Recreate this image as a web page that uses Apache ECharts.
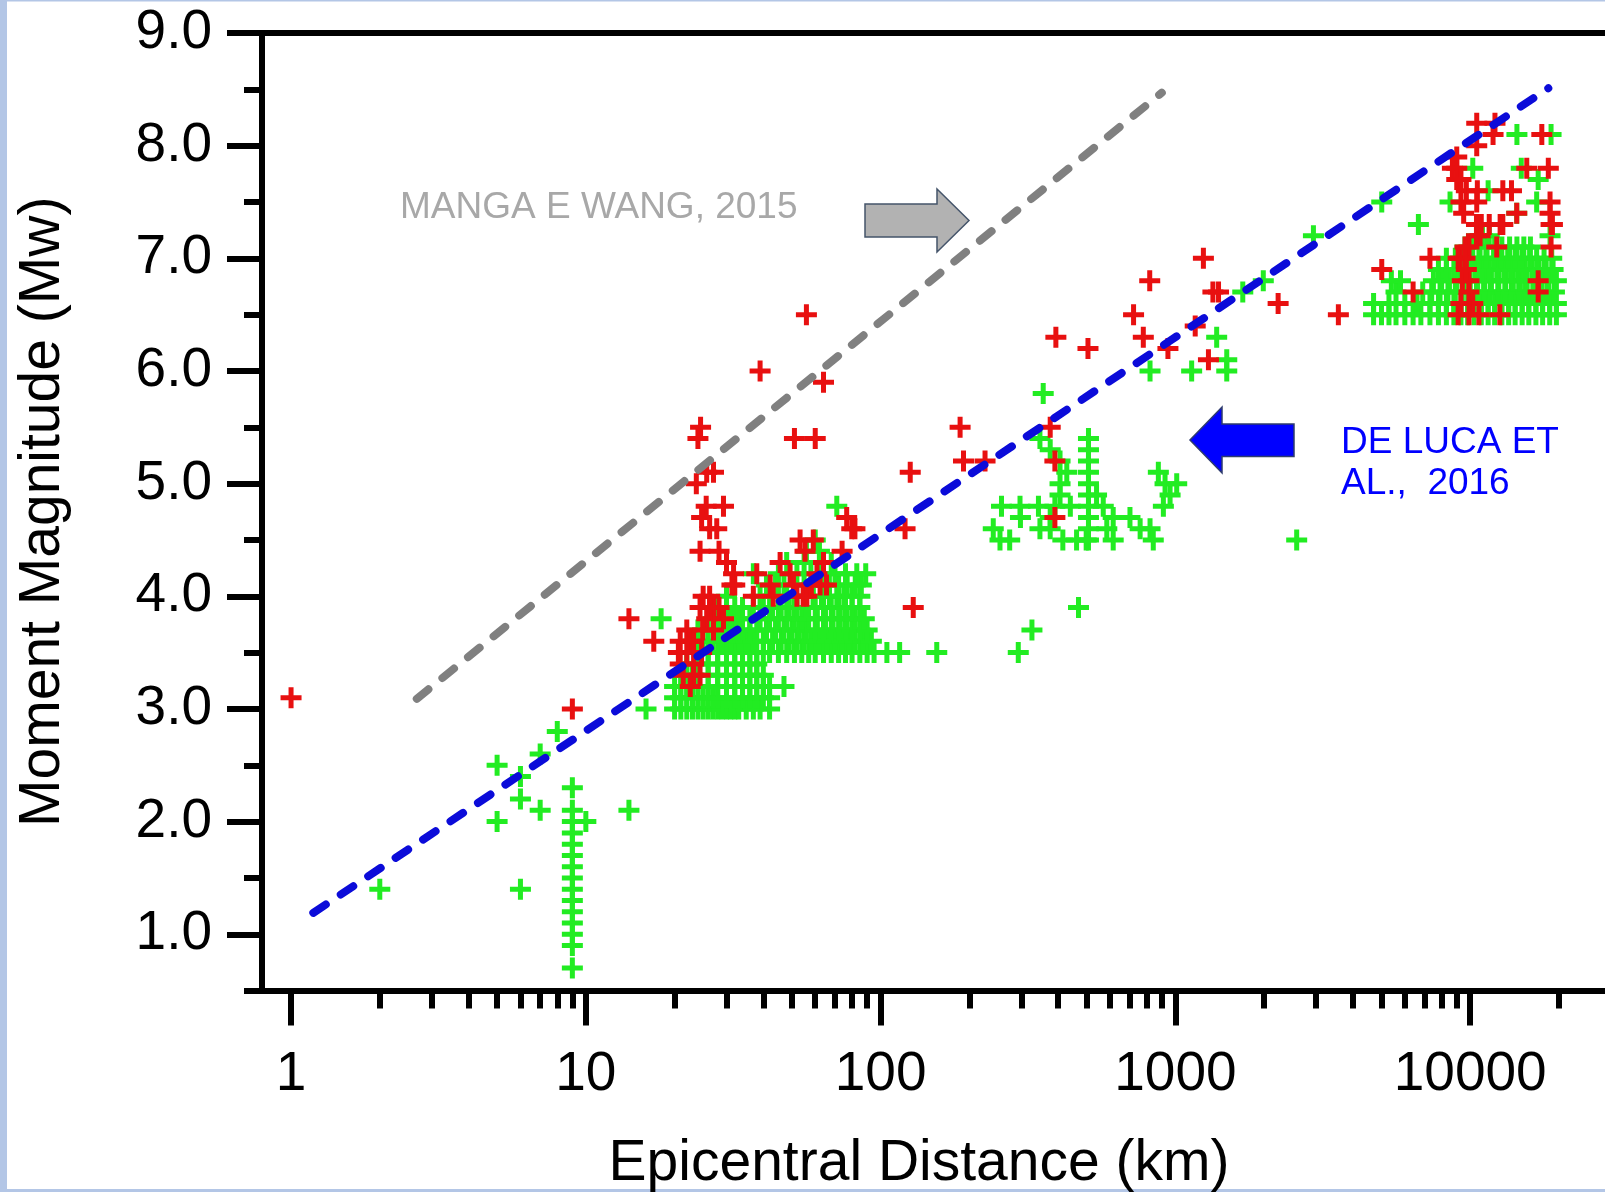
<!DOCTYPE html>
<html>
<head>
<meta charset="utf-8">
<title>Moment Magnitude vs Epicentral Distance</title>
<script src="https://cdn.jsdelivr.net/npm/echarts@6.0.0/dist/echarts.min.js"></script>
<style>
  html, body { margin: 0; padding: 0; background: #fff; }
  #main { width: 1605px; height: 1192px; }
</style>
</head>
<body>
<div id="main"></div>
<script>
// ---- axis ticks ----
var xMajorTicks = [1, 10, 100, 1000, 10000];
var xMinorTicks = [2, 3, 4, 5, 6, 7, 8, 9,
  20, 30, 40, 50, 60, 70, 80, 90,
  200, 300, 400, 500, 600, 700, 800, 900,
  2000, 3000, 4000, 5000, 6000, 7000, 8000, 9000, 20000];
var yMajorTicks = [1, 2, 3, 4, 5, 6, 7, 8, 9];
var yMinorTicks = [0.5, 1.5, 2.5, 3.5, 4.5, 5.5, 6.5, 7.5, 8.5];

// ---- green crosses: [distance km, Mw] ----
var greenScatter = [
  [2, 1.4], [5, 2.5], [5, 2.0], [6, 2.4], [6, 2.2], [6, 1.4], [7, 2.6], [7, 2.1], [8, 2.8],
  [9, 2.3], [10, 2.0], [14, 2.1], [16, 3.0], [18, 3.8],
  [47, 3.2], [71, 4.8], [60, 4.5], [62, 4.4], [56, 4.4], [89, 4.2], [105, 3.5], [116, 3.5], [155, 3.5],
  [356, 5.8], [820, 6.0], [1135, 6.0], [1493, 6.1], [1493, 6.0], [1380, 6.3], [1692, 6.7],
  [1986, 6.8], [2938, 7.2], [5010, 7.5], [6670, 7.3],
  [469, 3.9], [326, 3.7], [293, 3.5], [2578, 4.5],
  [8540, 7.5], [11500, 7.6], [16800, 7.5], [14380, 7.4], [17000, 7.7], [10200, 7.8],
  [14900, 7.8], [14400, 8.1], [18800, 8.1], [18650, 7.2], [11600, 7.2]
];
// vertical stack at 9 km
var greenColumn9km = [2.1, 2.0, 1.9, 1.8, 1.7, 1.6, 1.5, 1.4, 1.3, 1.2, 1.1, 1.0, 0.9, 0.7];
// 200 - 1000 km group
var greenMid = [
  [507, 5.4], [507, 5.3], [507, 5.2], [507, 5.1], [507, 5.0], [507, 4.9], [507, 4.8], [507, 4.7],
  [507, 4.6], [507, 4.5], [347, 5.4], [376, 5.3], [406, 5.2], [428, 5.1], [406, 5.0], [406, 4.9],
  [390, 4.8], [376, 4.7], [257, 4.8], [297, 4.8], [343, 4.8], [440, 4.8], [298, 4.7], [241, 4.6],
  [254, 4.5], [274, 4.5], [347, 4.6], [376, 4.6], [415, 4.5], [462, 4.5], [498, 4.5], [540, 4.9],
  [569, 4.8], [615, 4.7], [585, 4.6], [615, 4.5], [701, 4.7], [759, 4.6], [820, 4.6], [841, 4.5],
  [910, 4.8], [959, 4.9], [875, 5.1], [922, 5.0], [1010, 5.0]
];
// dense rows 20 - 100 km: [Mw, distances]
var greenRowsNear = [
  [3.0, [20, 21, 22, 23, 24, 25, 26, 27, 28, 29, 30, 31, 32, 33, 35, 37, 39, 42]],
  [3.1, [20, 21, 22, 23, 24, 25, 26, 27, 28, 30, 32, 34, 36, 38, 40, 42]],
  [3.2, [20, 21, 22, 23, 24, 26, 28, 30, 32, 34, 36, 38, 40, 42]],
  [3.3, [21, 22, 23, 24, 26, 28, 30, 32, 34, 36, 38, 40]],
  [3.4, [22, 24, 26, 28, 30, 32, 34, 36, 38]],
  [3.5, [24, 26, 28, 30, 32, 34, 36, 38, 40, 42, 45, 48, 51, 54, 57, 60, 64, 68, 72, 76, 80, 85, 90, 95]],
  [3.6, [23, 25, 27, 29, 31, 33, 35, 37, 40, 43, 46, 49, 52, 55, 58, 62, 66, 70, 74, 78, 82, 87, 93]],
  [3.7, [24, 26, 28, 30, 32, 34, 36, 38, 41, 44, 47, 50, 53, 56, 60, 64, 68, 72, 76, 80, 85, 90]],
  [3.8, [27, 29, 31, 33, 36, 39, 42, 45, 48, 51, 54, 57, 61, 65, 69, 73, 77, 82, 88]],
  [3.9, [28, 30, 32, 34, 37, 40, 43, 46, 49, 52, 56, 60, 64, 68, 72, 76, 80, 85]],
  [4.0, [30, 39, 42, 45, 48, 51, 55, 59, 63, 67, 71, 75, 80, 85]],
  [4.1, [41, 44, 47, 51, 55, 59, 63, 67, 72, 77, 82, 86]],
  [4.2, [37, 45, 52, 58, 64, 70, 76, 83]],
  [4.3, [48, 55, 62, 68]]
];
// dense rows around 10000 km
var greenRowsFar = [
  [6.5, [4700, 5000, 5300, 5600, 6000, 6400, 6800, 7300, 7800, 8300, 8800, 9300, 9800, 10300, 10900,
         11500, 12100, 12800, 13500, 14200, 15000, 15800, 16700, 17600, 18600, 19600]],
  [6.6, [4700, 5300, 6000, 6600, 7300, 7800, 8300, 8800, 9300, 9800, 10300, 10900, 11500, 12100,
         12800, 13500, 14200, 15000, 15800, 16700, 17600, 18600, 19600]],
  [6.7, [5600, 6900, 7400, 7900, 8400, 8900, 9400, 9900, 10500, 11100, 11700, 12400, 13100, 13800,
         14600, 15400, 16300, 17200, 18200, 19300]],
  [6.8, [5400, 5800, 7500, 8000, 8500, 9000, 9500, 10000, 10600, 11200, 11800, 12500, 13200, 14000,
         14800, 15600, 16500, 17500, 18500, 19600]],
  [6.9, [7800, 8300, 8800, 9300, 9800, 10400, 11000, 11600, 12300, 13000, 13700, 14500, 15300, 16200,
         17100, 18100, 19100]],
  [7.0, [8300, 8900, 9500, 10100, 10700, 11300, 12000, 12700, 13400, 14200, 15000, 15900, 16800, 17800, 18900]],
  [7.1, [9600, 10200, 10800, 11400, 12100, 12800, 13600, 14400, 15200, 16000]],
  [7.2, [10500, 11000]]
];

// ---- red crosses: [distance km, Mw] ----
var redNear = [
  [1, 3.1], [9, 3.0], [14, 3.8], [17, 3.6],
  [24.5, 5.5], [24, 5.4], [51, 5.4], [60, 5.4], [64, 5.9], [56, 6.5], [39, 6.0],
  [25.7, 5.1], [27.1, 5.1], [23.7, 5.0], [25.6, 4.8], [29.3, 4.8], [24.7, 4.7], [26.3, 4.6], [27.8, 4.6],
  [24.4, 4.4], [28.3, 4.4], [30, 4.3], [31.7, 4.2], [32, 4.1], [31.3, 4.1],
  [26.3, 4.0], [25, 4.0], [27.1, 3.9], [24.4, 3.9], [26.3, 3.9], [28.3, 3.9], [25.7, 3.8], [29.3, 3.8], [27.1, 3.7],
  [22, 3.7], [24.9, 3.7], [20.9, 3.6], [22.6, 3.6], [23.2, 3.6], [20.6, 3.5], [22, 3.5], [24.7, 3.5],
  [23.2, 3.4], [20.9, 3.4], [21.4, 3.3], [23.2, 3.3], [24.4, 3.3], [22.6, 3.2],
  [38, 4.2], [42.2, 4.1], [37, 4.0], [43.2, 4.0], [45.6, 4.3], [49.3, 4.2], [50.6, 4.1], [54.6, 4.0],
  [52, 4.0], [59.1, 4.5], [53.3, 4.5], [55.4, 4.4], [64, 4.3], [65.5, 4.1], [60.8, 4.2], [74, 4.4],
  [56.2, 4.0], [58.2, 4.1], [62.3, 4.1], [76.7, 4.7], [79.8, 4.6], [81.8, 4.6],
  [126, 5.1], [121, 4.6], [129, 3.9]
];
var redMid = [
  [186, 5.5], [191, 5.2], [226, 5.2], [376, 5.5], [390, 5.2], [390, 4.7], [393, 6.3], [505, 6.2],
  [721, 6.5], [778, 6.3], [818, 6.8], [943, 6.2], [1167, 6.4], [1244, 7.0], [1340, 6.7], [1400, 6.7],
  [1294, 6.1], [2230, 6.6], [3570, 6.5]
];
var redFar = [
  [10520, 8.2], [12130, 8.2], [11950, 8.1], [17490, 8.1], [10520, 8.0], [9000, 7.9], [9000, 7.8],
  [8700, 7.8], [9000, 7.7], [15550, 7.8], [18400, 7.8], [9300, 7.7], [9700, 7.6], [9300, 7.5],
  [10570, 7.6], [10520, 7.5], [12900, 7.6], [13800, 7.6], [18650, 7.5], [18650, 7.4], [9500, 7.4],
  [10500, 7.3], [14380, 7.4], [11600, 7.3], [12630, 7.3], [19000, 7.3], [18800, 7.1], [10800, 7.2],
  [12300, 7.1], [9900, 7.1], [9250, 7.0], [7300, 7.0], [5010, 6.9], [6400, 6.7], [9100, 7.0],
  [9600, 7.0], [9600, 7.1], [9400, 6.8], [9900, 6.8], [9900, 6.7], [9100, 6.5], [9900, 6.5],
  [10700, 6.5], [12600, 6.5], [10200, 6.6], [10900, 7.3], [12900, 7.3], [10500, 7.2], [17000, 6.8],
  [17000, 6.7], [18800, 7.3], [9300, 6.6], [9700, 6.9]
];

// ---- reference lines ----
var deLucaLine = [[1.19, 1.19], [18400, 8.51]];
var mangaWangLine = [[2.67, 3.09], [899, 8.47]];

// build series data
function rows(list) {
  var out = [];
  list.forEach(function (r) {
    r[1].forEach(function (d) { out.push([d, r[0]]); });
  });
  return out;
}
var greenData = greenScatter
  .concat(greenColumn9km.map(function (m) { return [9, m]; }))
  .concat(greenMid)
  .concat(rows(greenRowsNear))
  .concat(rows(greenRowsFar));
var redData = redNear.concat(redMid).concat(redFar);

var FONT = "'Liberation Sans', Arial, sans-serif";
// plus sign, arms 5 px thick in a 21 px box
var CROSS = 'path://M8,0h5v8h8v5h-8v8h-5v-8h-8v-5h8z';
var XMIN = 0.797, XMAX = 28650;

var myChart = echarts.init(document.getElementById('main'));
myChart.setOption({
  animation: false,
  backgroundColor: '#ffffff',
  grid: { left: 262, top: 33, right: 0, bottom: 201.4, containLabel: false, outerBoundsMode: 'none' },
  xAxis: [
    {
      type: 'log', logBase: 10, min: XMIN, max: XMAX, position: 'bottom',
      name: 'Epicentral Distance (km)', nameLocation: 'middle', nameGap: 145,
      nameTextStyle: { fontFamily: FONT, fontSize: 57, color: '#000', padding: [0, 29, 0, 0] },
      axisLine: { lineStyle: { color: '#000', width: 6 } },
      axisTick: { customValues: xMajorTicks, length: 35, lineStyle: { color: '#000', width: 6 } },
      axisLabel: {
        customValues: xMajorTicks, margin: 57,
        fontFamily: FONT, fontSize: 55, color: '#000',
        formatter: function (v) { return String(Math.round(v)); }
      },
      splitLine: { show: false }
    },
    {
      type: 'log', logBase: 10, min: XMIN, max: XMAX, position: 'bottom',
      axisLine: { show: false },
      axisTick: { customValues: xMinorTicks, length: 18, lineStyle: { color: '#000', width: 6 } },
      axisLabel: { show: false },
      splitLine: { show: false }
    },
    {
      type: 'log', logBase: 10, min: XMIN, max: XMAX, position: 'top',
      axisLine: { lineStyle: { color: '#000', width: 6 } },
      axisTick: { show: false },
      axisLabel: { show: false },
      splitLine: { show: false }
    }
  ],
  yAxis: [
    {
      type: 'value', min: 0.5, max: 9, position: 'left',
      name: 'Moment Magnitude (Mw)', nameLocation: 'middle', nameGap: 190,
      nameTextStyle: { fontFamily: FONT, fontSize: 57, color: '#000' },
      axisLine: { lineStyle: { color: '#000', width: 6 } },
      axisTick: { customValues: yMajorTicks, length: 35, lineStyle: { color: '#000', width: 6 } },
      axisLabel: {
        customValues: yMajorTicks, margin: 50,
        fontFamily: FONT, fontSize: 55, color: '#000',
        formatter: function (v) { return v.toFixed(1); }
      },
      splitLine: { show: false }
    },
    {
      type: 'value', min: 0.5, max: 9, position: 'left',
      axisLine: { show: false },
      axisTick: { customValues: yMinorTicks, length: 18, lineStyle: { color: '#000', width: 6 } },
      axisLabel: { show: false },
      splitLine: { show: false }
    }
  ],
  series: [
    {
      name: 'green', type: 'scatter', data: greenData,
      symbol: CROSS, symbolSize: 21,
      itemStyle: { color: '#22ec22', opacity: 1 }
    },
    {
      name: 'red', type: 'scatter', data: redData,
      symbol: CROSS, symbolSize: 21,
      itemStyle: { color: '#e81010', opacity: 1 }
    },
    {
      name: 'Manga e Wang 2015', type: 'line', data: mangaWangLine,
      showSymbol: false, symbol: 'none',
      lineStyle: { color: '#808080', width: 8, type: [15, 18], cap: 'round' }
    },
    {
      name: 'De Luca et al. 2016', type: 'line', data: deLucaLine,
      showSymbol: false, symbol: 'none',
      lineStyle: { color: '#0b0bd9', width: 8, type: [15, 18], cap: 'round' }
    }
  ],
  graphic: [
    // light blue frame of the picture
    { type: 'rect', left: 0, top: 0, shape: { width: 7, height: 1192 }, style: { fill: '#b3c6e6' }, silent: true },
    { type: 'rect', left: 0, top: 0, shape: { width: 1605, height: 1.5 }, style: { fill: '#b3c6e6' }, silent: true },
    { type: 'rect', left: 0, top: 1189, shape: { width: 1605, height: 3 }, style: { fill: '#b3c6e6' }, silent: true },
    {
      type: 'text', x: 400, y: 208,
      style: { text: 'MANGA E WANG, 2015', fill: '#a8a8a8', font: '37px ' + FONT, verticalAlign: 'middle' }
    },
    {
      type: 'polygon',
      shape: { points: [[865, 204], [937, 204], [937, 189], [969, 220.5], [937, 252], [937, 237], [865, 237]] },
      style: { fill: '#b2b2b2', stroke: '#44546a', lineWidth: 1.5 }
    },
    {
      type: 'polygon',
      shape: { points: [[1294, 424], [1222, 424], [1222, 407], [1190, 440], [1222, 473], [1222, 456.5], [1294, 456.5]] },
      style: { fill: '#0000ff', stroke: '#2f3c6e', lineWidth: 1.5 }
    },
    {
      type: 'text', x: 1341, y: 443,
      style: { text: 'DE LUCA ET', fill: '#0000ff', font: '37px ' + FONT, verticalAlign: 'middle' }
    },
    {
      type: 'text', x: 1341, y: 484,
      style: { text: 'AL.,  2016', fill: '#0000ff', font: '37px ' + FONT, verticalAlign: 'middle' }
    }
  ]
});
</script>
</body>
</html>
